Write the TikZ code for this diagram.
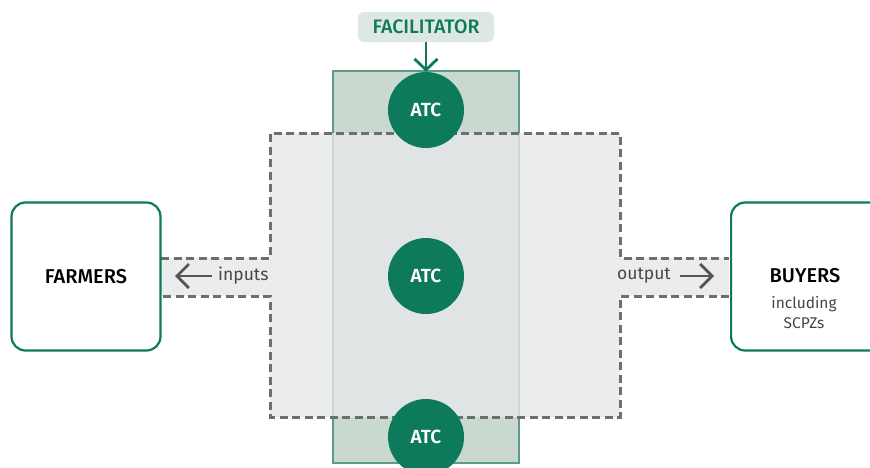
\documentclass[tikz,border=0pt]{standalone}
\usepackage{fontspec}
\setmainfont{Fira Sans}
\newfontfamily\medfont{Fira Sans Medium}
\newfontfamily\semifont{Fira Sans SemiBold}
\usetikzlibrary{arrows.meta}
\definecolor{atcgreen}{RGB}{14,122,92}
\definecolor{facfill}{RGB}{221,232,226}
\definecolor{greyfill}{RGB}{230,231,233}
\definecolor{greenfill}{RGB}{201,217,208}
\definecolor{greenedge}{RGB}{93,156,130}
\definecolor{dashgrey}{RGB}{110,110,110}
\definecolor{arrowgrey}{RGB}{85,85,85}
\definecolor{txtgrey}{RGB}{70,70,70}
\tikzset{
  atc/.style={circle, fill=atcgreen, minimum size=76pt, inner sep=0pt,
    text=white, font=\fontsize{19}{21}\semifont},
  actor/.style={draw=atcgreen, line width=2.2pt, rounded corners=14pt, fill=white,
    minimum width=149pt, minimum height=148pt, inner sep=0pt},
  flowlabel/.style={text=txtgrey, font=\fontsize{17.5}{20}\selectfont, inner sep=0pt},
  flowarrow/.style={draw=arrowgrey, line width=2.8pt, -{Straight Barb[length=12pt,width=24pt,line width=2.8pt]}},
  dashedge/.style={draw=dashgrey, line width=3pt, dash pattern=on 8pt off 4.5pt},
}
\begin{document}
\begin{tikzpicture}[x=1pt,y=-1pt]
\useasboundingbox (0,0) rectangle (870,467);
% green column
\fill[greenfill] (333,71) rectangle (519,463);
\draw[greenedge, line width=2.2pt] (333,71) rectangle (519,463);
% grey cross region
\path[fill=greyfill, fill opacity=0.8]
  (161,258) -- (270,258) -- (270,133) -- (620,133) -- (620,258) -- (729,258)
  -- (729,296) -- (620,296) -- (620,417) -- (270,417) -- (270,296) -- (161,296) -- cycle;
\draw[dashedge] (161,258) -- (270,258) -- (270,133) -- (620,133) -- (620,258) -- (729,258);
\draw[dashedge] (729,296) -- (620,296) -- (620,417) -- (270,417) -- (270,296) -- (161,296);
% actors
\node[actor] (farmers) at (86,276.5) {};
\node[font=\fontsize{20}{22}\medfont] (farmerslbl) at (86,277) {FARMERS};
\node[actor, minimum width=160pt, anchor=west] (buyers) at (730,276.5) {};
\node[font=\fontsize{20}{22}\medfont] (buyerslbl) at (805,276) {BUYERS};
\node[text=txtgrey, font=\fontsize{15.5}{20}\selectfont, align=center] (buyerssub) at (804,313) {including\\SCPZs};
% circles
\node[atc] (atc1) at (426,110) {ATC};
\node[atc] (atc2) at (426,276) {ATC};
\node[atc] (atc3) at (426,437) {ATC};
% facilitator
\node[fill=facfill, rounded corners=6pt, minimum width=136pt, minimum height=30pt, inner sep=0pt,
  text=atcgreen, font=\fontsize{19.5}{21}\medfont] (fac) at (426,27) {FACILITATOR};
\draw[atcgreen, line width=2.8pt, -{Straight Barb[length=11pt,width=23pt,line width=2.8pt]}] (fac.south) -- (atc1.north);
% flows
\node[flowlabel, anchor=west] (inputs) at (218,276) {inputs};
\coordinate (inend) at (175,276);
\draw[flowarrow] (inputs.west) ++(-6,0) coordinate (instart) -- (inend);
\node[flowlabel, anchor=east] (output) at (671,276) {output};
\coordinate (outend) at (714,276);
\draw[flowarrow] (output.east) ++(9,0) coordinate (outstart) -- (outend);
\end{tikzpicture}
\end{document}
